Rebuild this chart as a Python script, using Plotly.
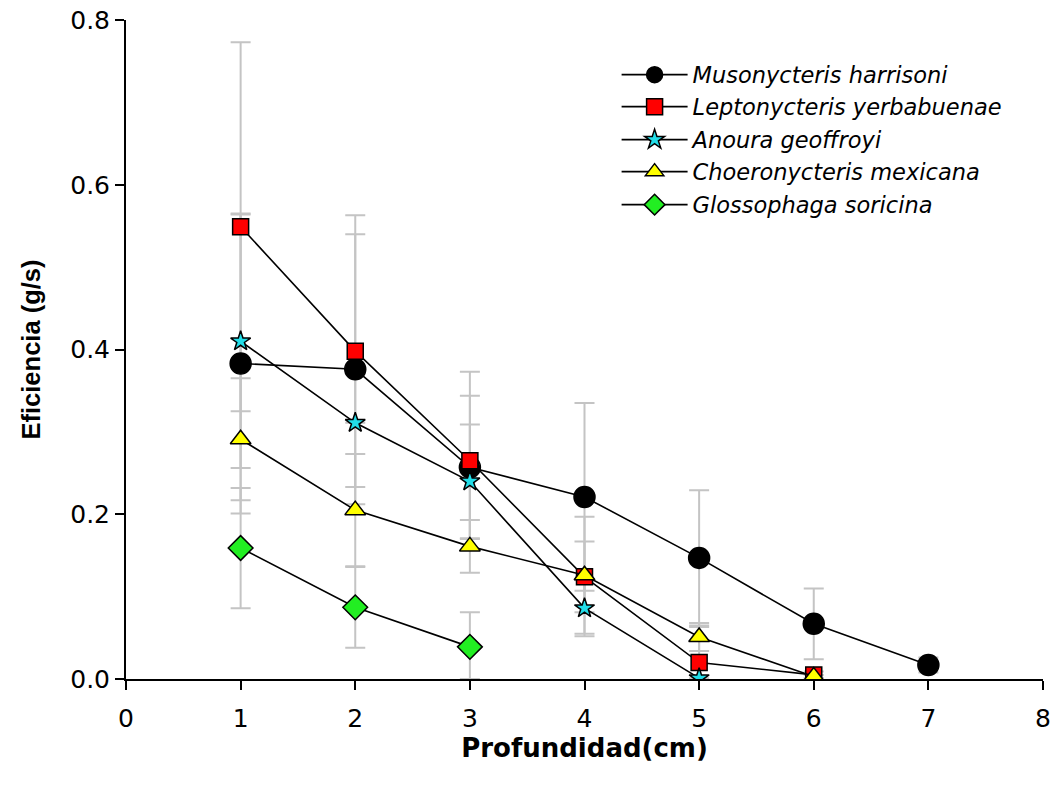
import plotly.graph_objects as go

# Depth (cm) sampled for each species
depth_muso = [1, 2, 3, 4, 5, 6, 7]
depth_lepto = [1, 2, 3, 4, 5, 6]
depth_anoura = [1, 2, 3, 4, 5]
depth_choero = [1, 2, 3, 4, 5, 6]
depth_glosso = [1, 2, 3]

# Mean efficiency (g/s)
eff_muso = [0.383, 0.376, 0.257, 0.221, 0.147, 0.067, 0.017]
eff_lepto = [0.549, 0.398, 0.265, 0.124, 0.020, 0.005]
eff_anoura = [0.410, 0.311, 0.240, 0.086, 0.001]
eff_choero = [0.291, 0.205, 0.161, 0.126, 0.051, 0.003]
eff_glosso = [0.159, 0.087, 0.039]

# Error (symmetric)
err_muso = [0.182, 0.164, 0.087, 0.114, 0.082, 0.043, 0.009]
err_lepto = [0.224, 0.165, 0.108, 0.043, 0.043, 0.004]
err_anoura = [0.154, 0.0, 0.069, 0.034, 0.0]
err_choero = [0.074, 0.068, 0.032, 0.071, 0.017, 0.002]
err_glosso = [0.073, 0.049, 0.042]

species = [
    "Musonycteris harrisoni",
    "Leptonycteris yerbabuenae",
    "Anoura geoffroyi",
    "Choeronycteris mexicana",
    "Glossophaga soricina",
]

series = [
    (species[0], depth_muso, eff_muso, err_muso, "circle", "black", 21),
    (species[1], depth_lepto, eff_lepto, err_lepto, "square", "red", 16),
    (species[2], depth_anoura, eff_anoura, err_anoura, "star", "#22dde8", 15),
    (species[3], depth_choero, eff_choero, err_choero, "triangle-up", "yellow", 18),
    (species[4], depth_glosso, eff_glosso, err_glosso, "diamond", "#22ee22", 19),
]

fig = go.Figure()

# Error bars first so every marker sits on top of them
for name, x, y, e, sym, col, size in series:
    minus = [min(ei, yi) for ei, yi in zip(e, y)]
    fig.add_trace(go.Scatter(
        x=x, y=y, mode="markers",
        marker=dict(size=1, color="rgba(0,0,0,0)"),
        error_y=dict(type="data", array=e, arrayminus=minus, symmetric=False,
                     color="#c4c4c4", thickness=2, width=10),
        showlegend=False, hoverinfo="skip",
    ))

legend_ids = ["legend", "legend2", "legend3", "legend4", "legend5"]

for (name, x, y, e, sym, col, size), lid in zip(series, legend_ids):
    fig.add_trace(go.Scatter(
        x=x, y=y, mode="lines+markers", name=name, legend=lid,
        line=dict(color="black", width=1.6),
        marker=dict(symbol=sym, size=size, color=col,
                    line=dict(color="black", width=1.5)),
    ))

wide = "DejaVu Sans, Verdana, sans-serif"
narrow = "Liberation Sans, Arial, sans-serif"
tick_font = dict(family=wide, size=25, color="black")
legend_font = dict(family=wide, size=22.5, color="black", style="italic")

fig.update_layout(
    width=1053, height=790,
    margin=dict(l=126, r=10, t=20, b=111),
    paper_bgcolor="white", plot_bgcolor="white",
    font=dict(family=wide, size=20, color="black"),
    xaxis=dict(
        range=[0, 8], dtick=1, tick0=0, showgrid=False, zeroline=False,
        showline=True, linecolor="black", linewidth=2, automargin=False,
        ticks="outside", ticklen=9, tickwidth=2, tickcolor="black",
        tickfont=tick_font, ticklabelstandoff=7,
        title=dict(text="Profundidad(cm)",
                   font=dict(family=wide, size=26, color="black", weight="bold"),
                   standoff=6),
    ),
    yaxis=dict(
        range=[0, 0.8], dtick=0.2, tick0=0, tickformat=".1f",
        showgrid=False, zeroline=False, automargin=False,
        showline=True, linecolor="black", linewidth=2,
        ticks="outside", ticklen=9, tickwidth=2, tickcolor="black",
        tickfont=tick_font,
        title=dict(text="Eficiencia (g/s)",
                   font=dict(family=narrow, size=25.5, color="black", weight="bold"),
                   standoff=22),
    ),
)

# One single-entry legend per species, stacked in the upper right
row_centers_px = [75, 107, 140, 172, 205]
plot_top, plot_h = 20, 659
for lid, yc in zip(legend_ids, row_centers_px):
    fig.update_layout({lid: dict(
        x=0.535, y=1 - (yc - plot_top) / plot_h, xanchor="left", yanchor="middle",
        bgcolor="rgba(0,0,0,0)", borderwidth=0, font=legend_font,
        itemwidth=66,
    )})

fig.write_html("out.html")
